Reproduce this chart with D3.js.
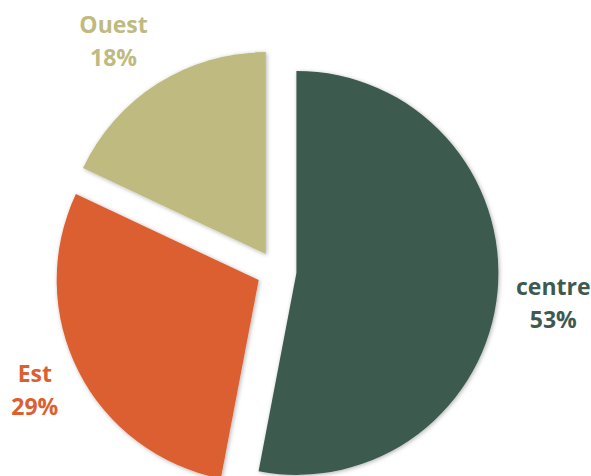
<!DOCTYPE html>
<html>
<head>
<meta charset="utf-8">
<script src="https://cdn.jsdelivr.net/npm/d3@7"></script>
<style>
  html, body { margin: 0; padding: 0; background: #ffffff; }
  svg { display: block; }
  text { font-family: "Open Sans", "Noto Sans", sans-serif; font-weight: 700; }
</style>
</head>
<body>
<svg id="chart" width="591" height="476"></svg>
<script>
// Share by region
const categories = ["centre", "Est", "Ouest"];
const values = [53, 29, 18];
const labels = ["53%", "29%", "18%"];
const colors = ["#3e5a50", "#dc5f32", "#bfba80"];

const width = 591, height = 476;
const cx = 276.5, cy = 271;
const radius = 202;
const explode = 20;
const labelRadius = 278;
// fine placement of the outside labels, per slice
const labelNudge = [[0, 6], [6, -7], [-14, 5]];

const svg = d3.select("#chart");

// soft outer shadow around each slice
const defs = svg.append("defs");
const f = defs.append("filter").attr("id", "shadow")
  .attr("x", "-20%").attr("y", "-20%").attr("width", "140%").attr("height", "140%");
f.append("feDropShadow")
  .attr("dx", 1).attr("dy", 1)
  .attr("stdDeviation", 2.2)
  .attr("flood-color", "#000").attr("flood-opacity", 0.3);

const color = d3.scaleOrdinal().domain(categories).range(colors);

const pie = d3.pie().sort(null).value(d => d.value);
const data = pie(categories.map((c, i) => ({ name: c, value: values[i], label: labels[i], nudge: labelNudge[i] })));

const arc = d3.arc().innerRadius(0).outerRadius(radius);
const labelArc = d3.arc().innerRadius(labelRadius).outerRadius(labelRadius);

const g = svg.append("g").attr("transform", `translate(${cx},${cy})`);

function offset(d) {
  const a = (d.startAngle + d.endAngle) / 2;
  return [Math.sin(a) * explode, -Math.cos(a) * explode];
}

g.selectAll("path.slice")
  .data(data)
  .join("path")
  .attr("class", "slice")
  .attr("d", arc)
  .attr("fill", d => color(d.data.name))
  .attr("filter", "url(#shadow)")
  .attr("transform", d => `translate(${offset(d)})`);

const lab = g.selectAll("text.lab")
  .data(data)
  .join("text")
  .attr("class", "lab")
  .attr("text-anchor", "middle")
  .attr("fill", d => color(d.data.name))
  .attr("font-size", 23)
  .attr("transform", d => {
    const [x, y] = labelArc.centroid(d);
    return `translate(${x + d.data.nudge[0]},${y + d.data.nudge[1]})`;
  });

lab.append("tspan").attr("x", 0).attr("y", -8).text(d => d.data.name);
lab.append("tspan").attr("x", 0).attr("y", 25).text(d => d.data.label);
</script>
</body>
</html>
